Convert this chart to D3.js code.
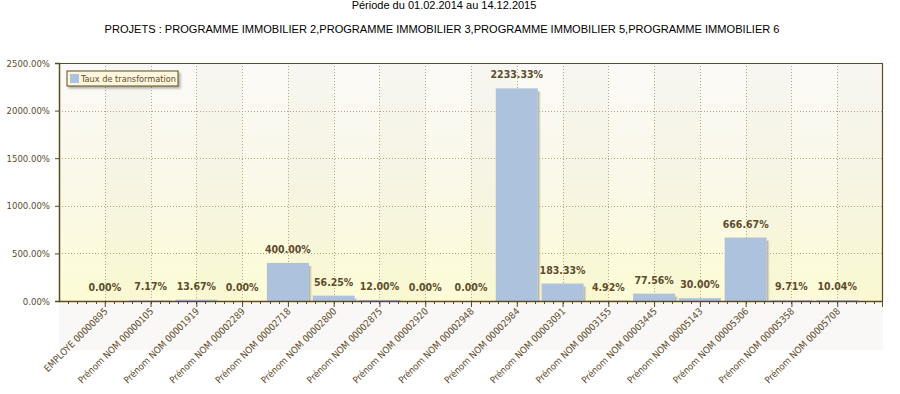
<!DOCTYPE html>
<html><head><meta charset="utf-8">
<script src="https://cdn.jsdelivr.net/npm/d3@7"></script>
<style>
html,body{margin:0;padding:0;background:#fff;}
svg{display:block;}
</style></head>
<body>
<svg id="c" width="900" height="394"></svg>
<script>
const title1 = "Période du 01.02.2014 au 14.12.2015";
const title2 = "PROJETS : PROGRAMME IMMOBILIER 2,PROGRAMME IMMOBILIER 3,PROGRAMME IMMOBILIER 5,PROGRAMME IMMOBILIER 6";
const seriesName = "Taux de transformation";
const categories = ["EMPLOYE 00000895","Prénom NOM 00000105","Prénom NOM 00001919","Prénom NOM 00002289","Prénom NOM 00002718","Prénom NOM 00002800","Prénom NOM 00002875","Prénom NOM 00002920","Prénom NOM 00002948","Prénom NOM 00002984","Prénom NOM 00003091","Prénom NOM 00003155","Prénom NOM 00003445","Prénom NOM 00005143","Prénom NOM 00005306","Prénom NOM 00005358","Prénom NOM 00005708"];
const values = [0.00,7.17,13.67,0.00,400.00,56.25,12.00,0.00,0.00,2233.33,183.33,4.92,77.56,30.00,666.67,9.71,10.04];
const yTicks = [0,500,1000,1500,2000,2500];

const svg = d3.select("#c");
const L = 59, R = 883, T = 63, B = 301;
const brown = "#5c4a22", txt = "#5e4c2c";

const x = d3.scalePoint().domain(categories).range([L, R]).padding(1);
const y = d3.scaleLinear().domain([0, 2500]).range([B, T]);
const step = x.step();

const defs = svg.append("defs");
const bg = defs.append("linearGradient").attr("id","bg").attr("x1",0).attr("y1",0).attr("x2",0).attr("y2",1);
bg.append("stop").attr("offset","0").attr("stop-color","#fbfaf7");
bg.append("stop").attr("offset","0.5").attr("stop-color","#faf8e8");
bg.append("stop").attr("offset","1").attr("stop-color","#fdfcd6");
const sh = defs.append("linearGradient").attr("id","sh").attr("x1",0).attr("y1",0).attr("x2",1).attr("y2",0);
sh.append("stop").attr("offset","0").attr("stop-color","#9a957e").attr("stop-opacity",0.9);
sh.append("stop").attr("offset","1").attr("stop-color","#d8d4bc").attr("stop-opacity",0.3);
const lsh = defs.append("filter").attr("id","lsh").attr("x","-10%").attr("y","-30%").attr("width","130%").attr("height","180%");
lsh.append("feDropShadow").attr("dx",2).attr("dy",2).attr("stdDeviation",1).attr("flood-color","#000").attr("flood-opacity",0.3);

// titles
svg.append("text").attr("x",444).attr("y",9).attr("text-anchor","middle")
  .attr("font-family","Liberation Sans, Arial, sans-serif").attr("font-size",11).attr("fill","#000").text(title1);
svg.append("text").attr("x",442).attr("y",33).attr("text-anchor","middle")
  .attr("font-family","Liberation Sans, Arial, sans-serif").attr("font-size",11).attr("fill","#000")
  .attr("textLength",675).attr("lengthAdjust","spacingAndGlyphs").text(title2);

// label-area background
svg.append("rect").attr("x",L).attr("y",B+2).attr("width",R-L).attr("height",47).attr("fill","#f9f8f6");

// plot background
svg.append("rect").attr("x",L).attr("y",T).attr("width",R-L).attr("height",B-T).attr("fill","url(#bg)");
// alternating bands
const bandStarts = categories.map(c => x(c)).filter((d,i) => i % 2 === 0);
svg.append("g").selectAll("rect").data(bandStarts).join("rect")
  .attr("x", d => d).attr("y", T).attr("width", step).attr("height", B - T)
  .attr("fill", "#8a7a40").attr("fill-opacity", 0.03);

// grid
const grid = svg.append("g").attr("stroke","#b7a67c").attr("stroke-width",1).attr("stroke-dasharray","1,2");
grid.selectAll("line.h").data(yTicks.slice(1,-1)).join("line").attr("class","h")
  .attr("x1",L).attr("x2",R).attr("y1",d=>Math.round(y(d))+0.5).attr("y2",d=>Math.round(y(d))+0.5);
grid.selectAll("line.v").data(categories).join("line").attr("class","v")
  .attr("x1",d=>Math.round(x(d))+0.5).attr("x2",d=>Math.round(x(d))+0.5).attr("y1",T).attr("y2",B);

// bars
const bw = 42;
const bars = svg.append("g");
bars.selectAll("rect.s").data(values).join("rect").attr("class","s")
  .attr("x",(d,i)=>x(categories[i])+bw/2).attr("y",d=>y(d)+3)
  .attr("width",3).attr("height",d=>Math.max(0,B-y(d)-3)).attr("fill","url(#sh)");
bars.selectAll("rect.b").data(values).join("rect").attr("class","b")
  .attr("x",(d,i)=>x(categories[i])-bw/2).attr("y",d=>y(d))
  .attr("width",bw).attr("height",d=>B-y(d)).attr("fill","#adc2dd");

// value labels
svg.append("g").selectAll("text").data(values).join("text")
  .attr("x",(d,i)=>x(categories[i])).attr("y",d=>y(d)-10)
  .attr("text-anchor","middle").attr("font-family","DejaVu Sans Condensed, DejaVu Sans, sans-serif")
  .attr("font-stretch","condensed")
  .attr("font-size",10.5).attr("font-weight","bold").attr("fill",txt)
  .text(d=>d.toFixed(2)+"%");

// border
svg.append("path").attr("d",`M${L},${T+0.5}H${R-0.5}V${B}`).attr("fill","none").attr("stroke",brown).attr("stroke-width",1.2);

// y axis
const yAxis = svg.append("g").attr("transform",`translate(${L},0)`)
  .call(d3.axisLeft(y).tickValues(yTicks).tickSize(4).tickPadding(5).tickFormat(d=>d.toFixed(2)+"%"));
yAxis.select(".domain").attr("stroke",brown).attr("stroke-width",1.5);
yAxis.selectAll(".tick line").attr("stroke",brown);
yAxis.selectAll("text").attr("font-family","DejaVu Sans Condensed, DejaVu Sans, sans-serif").attr("font-size",9.5).attr("fill",txt);

// x axis minor ticks
const minor = [];
const n = Math.round((R - L) / (step / 5));
for (let k = 1; k < n; k++) minor.push(L + k * step / 5);
svg.append("g").selectAll("line").data(minor).join("line")
  .attr("x1",d=>Math.round(d)+0.5).attr("x2",d=>Math.round(d)+0.5).attr("y1",B).attr("y2",B+3)
  .attr("stroke",brown);

const xAxis = svg.append("g").attr("transform",`translate(0,${B})`)
  .call(d3.axisBottom(x).tickSize(6).tickSizeOuter(0));
xAxis.select(".domain").attr("stroke",brown).attr("stroke-width",1.5).attr("d",`M${L},0.5H${R}`);
xAxis.selectAll(".tick line").attr("stroke",brown);
xAxis.selectAll("text").attr("font-family","DejaVu Sans Condensed, DejaVu Sans, sans-serif").attr("font-size",9.5).attr("fill",txt)
  .attr("text-anchor","end").attr("y",0).attr("dy",0).attr("transform","translate(3,11) rotate(-45)");
svg.append("line").attr("x1",R-0.5).attr("x2",R-0.5).attr("y1",B).attr("y2",B+6).attr("stroke",brown);

// legend
const lg = svg.append("g").attr("transform","translate(67,71)");
lg.append("rect").attr("width",111).attr("height",15).attr("fill","#fdf6dc").attr("stroke",brown).attr("stroke-width",1).attr("filter","url(#lsh)");
lg.append("rect").attr("x",3).attr("y",3).attr("width",9).attr("height",9).attr("fill","#adc2dd");
lg.append("text").attr("x",14).attr("y",11).attr("font-family","DejaVu Sans Condensed, DejaVu Sans, sans-serif").attr("font-size",9.5)
  .attr("fill",txt).attr("textLength",95).attr("lengthAdjust","spacingAndGlyphs").text(seriesName);
</script>
</body></html>
